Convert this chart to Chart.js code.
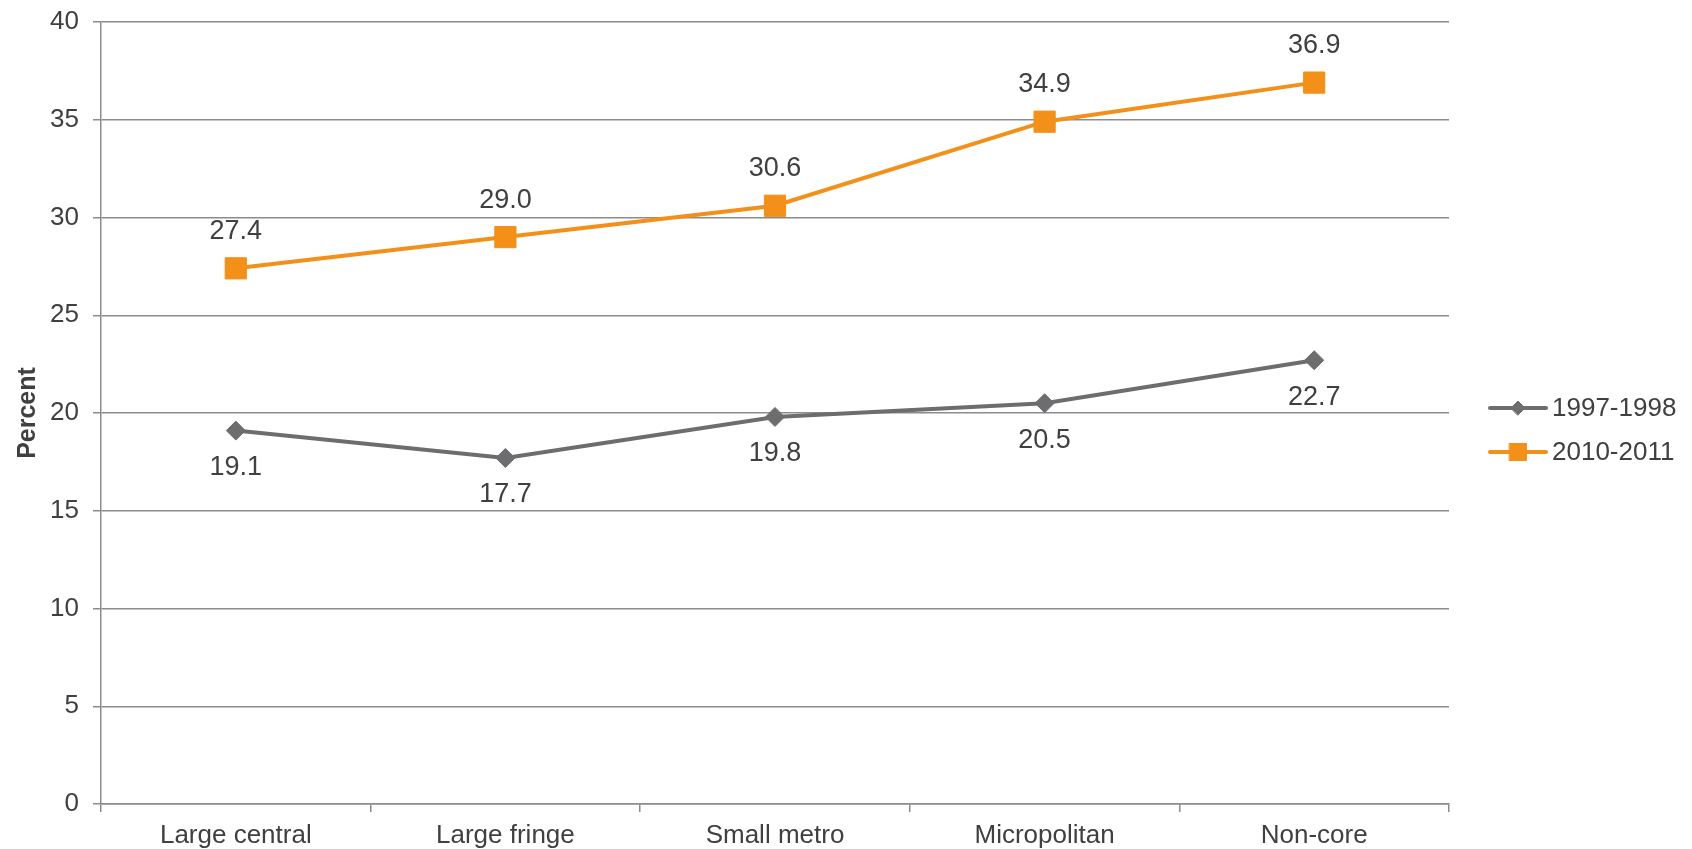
<!DOCTYPE html>
<html>
<head>
<meta charset="utf-8">
<title>Percent by urbanization level</title>
<script src="https://cdn.jsdelivr.net/npm/chart.js@4.4.1/dist/chart.umd.min.js"></script>
<style>
    html, body { margin: 0; padding: 0; background: #fff; }
    #wrap { width: 1692px; height: 849px; position: relative; }
</style>
</head>
<body>
<div id="wrap"><canvas id="chart-urban"></canvas></div>
<script>
// ==========================================
// DATOS
// ==========================================
const categorias = ['Large central', 'Large fringe', 'Small metro', 'Micropolitan', 'Non-core'];
const serie1997 = [19.1, 17.7, 19.8, 20.5, 22.7];
const serie2010 = [27.4, 29.0, 30.6, 34.9, 36.9];
const etiquetasSeries = ['1997-1998', '2010-2011'];
const ticksY = { min: 0, max: 40, step: 5 };

const GRIS = '#6d6d6f';
const NARANJA = '#f39019';
const TEXTO = '#404040';
const REJILLA = '#8c8c8c';
const FUENTE = '"Liberation Sans", Arial, sans-serif';

// ==========================================
// PLUGINS PROPIOS
// ==========================================

// Etiquetas de valor: naranja arriba, gris abajo
const valueLabels = {
    id: 'valueLabels',
    afterDatasetsDraw(chart) {
        const ctx = chart.ctx;
        ctx.save();
        ctx.font = '27px ' + FUENTE;
        ctx.fillStyle = TEXTO;
        ctx.textAlign = 'center';
        ctx.textBaseline = 'middle';
        chart.data.datasets.forEach((ds, i) => {
            const meta = chart.getDatasetMeta(i);
            const dir = ds.labelPos === 'above' ? -1 : 1;
            meta.data.forEach((pt, j) => {
                ctx.fillText(ds.data[j].toFixed(1), pt.x, pt.y + dir * 37);
            });
        });
        ctx.restore();
    }
};

// Leyenda a la derecha con linea + marcador
const lineLegend = {
    id: 'lineLegend',
    afterDraw(chart) {
        const ctx = chart.ctx;
        const area = chart.chartArea;
        const x0 = area.right + 41;
        const x1 = x0 + 56;
        chart.data.datasets.forEach((ds, i) => {
            const y = area.top + 386 + i * 44;
            ctx.save();
            ctx.strokeStyle = ds.borderColor;
            ctx.lineWidth = 4;
            ctx.lineCap = 'round';
            ctx.beginPath();
            ctx.moveTo(x0, y);
            ctx.lineTo(x1, y);
            ctx.stroke();
            ctx.fillStyle = ds.borderColor;
            ctx.lineWidth = 1;
            Chart.helpers.drawPoint(ctx, {
                pointStyle: ds.pointStyle,
                radius: ds.pointStyle === 'rect' ? 12 : 7,
                borderWidth: 1
            }, (x0 + x1) / 2, y);
            ctx.fillStyle = TEXTO;
            ctx.font = '26px ' + FUENTE;
            ctx.textAlign = 'left';
            ctx.textBaseline = 'middle';
            ctx.fillText(ds.label, x1 + 6, y + 1);
            ctx.restore();
        });
    }
};

// ==========================================
// GRAFICO
// ==========================================
const ctxUrban = document.getElementById('chart-urban').getContext('2d');

new Chart(ctxUrban, {
    type: 'line',
    data: {
        labels: categorias,
        datasets: [{
            label: etiquetasSeries[0],
            data: serie1997,
            borderColor: GRIS,
            backgroundColor: GRIS,
            borderWidth: 4,
            tension: 0,
            pointStyle: 'rectRot',
            pointRadius: 9.5,
            pointHoverRadius: 9.5,
            pointBorderWidth: 1,
            labelPos: 'below'
        }, {
            label: etiquetasSeries[1],
            data: serie2010,
            borderColor: NARANJA,
            backgroundColor: NARANJA,
            borderWidth: 4,
            tension: 0,
            pointStyle: 'rect',
            pointRadius: 15,
            pointHoverRadius: 15,
            pointBorderWidth: 1,
            labelPos: 'above'
        }]
    },
    options: {
        responsive: true,
        maintainAspectRatio: false,
        animation: false,
        layout: { padding: { left: 0, top: 22, right: 243, bottom: 0 } },
        plugins: {
            legend: { display: false },
            tooltip: { enabled: false }
        },
        scales: {
            x: {
                offset: true,
                grid: {
                    offset: true,
                    drawOnChartArea: false,
                    color: REJILLA,
                    lineWidth: 1.5,
                    tickLength: 8
                },
                border: { color: REJILLA, width: 1.5 },
                ticks: {
                    color: TEXTO,
                    font: { family: FUENTE, size: 26 },
                    padding: 8,
                    maxRotation: 0
                },
                afterFit: function(scale) { scale.height = 45; }
            },
            y: {
                min: ticksY.min,
                max: ticksY.max,
                grid: {
                    color: REJILLA,
                    lineWidth: 1.5,
                    tickLength: 8
                },
                border: { color: REJILLA, width: 1.5 },
                ticks: {
                    stepSize: ticksY.step,
                    color: TEXTO,
                    font: { family: FUENTE, size: 26 },
                    padding: 14
                },
                title: {
                    display: true,
                    text: 'Percent',
                    color: TEXTO,
                    font: { family: FUENTE, size: 25, weight: 'bold' },
                    padding: { top: 13, bottom: 0 }
                },
                afterFit: function(scale) {
                    scale.width = 101;
                    // el margen superior lo fija layout.padding
                    scale.paddingTop = 0;
                    scale.paddingBottom = 0;
                }
            }
        }
    },
    plugins: [valueLabels, lineLegend]
});
</script>
</body>
</html>
